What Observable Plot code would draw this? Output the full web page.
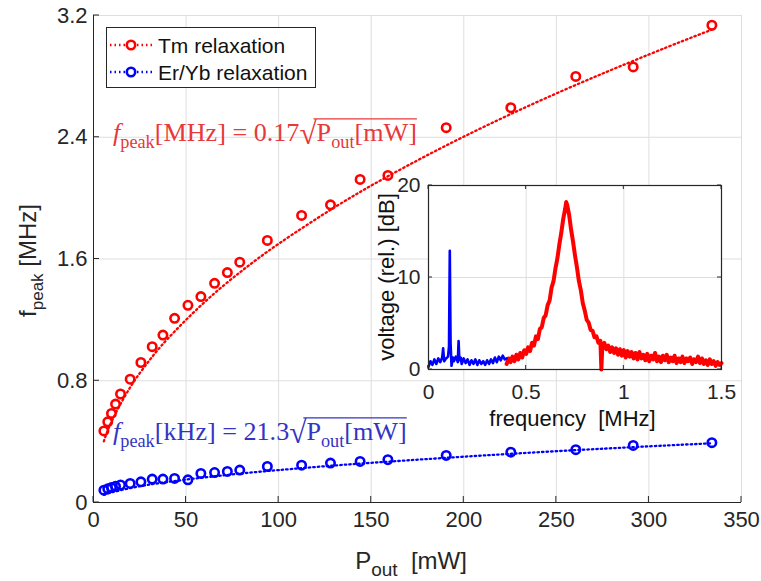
<!DOCTYPE html>
<html><head><meta charset="utf-8">
<script src="https://cdn.jsdelivr.net/npm/d3@7"></script>
<script src="https://cdn.jsdelivr.net/npm/@observablehq/plot@0.6"></script>
<style>
body{margin:0;background:#fff;}
#wrap{position:relative;width:761px;height:581px;font-family:"Liberation Sans",Arial,sans-serif;}
#wrap svg{position:absolute;overflow:visible;}
</style></head><body><div id="wrap"></div>
<script>
// ---- main chart data ----
const pOut   = [5.6, 7.7, 9.7, 11.9, 14.6, 19.8, 25.6, 31.7, 37.5, 43.8, 51, 58, 65.4, 72.3, 79, 93.9, 112.4, 128, 144, 159, 190.5, 225.4, 260.5, 291.5, 334];
const tmPeak = [0.47, 0.53, 0.585, 0.647, 0.713, 0.81, 0.92, 1.024, 1.10, 1.21, 1.296, 1.353, 1.44, 1.511, 1.579, 1.722, 1.886, 1.956, 2.123, 2.149, 2.463, 2.594, 2.80, 2.862, 3.136];
const erPeak = [0.081, 0.09, 0.098, 0.106, 0.115, 0.125, 0.136, 0.154, 0.154, 0.158, 0.149, 0.191, 0.197, 0.204, 0.213, 0.237, 0.245, 0.259, 0.27, 0.281, 0.309, 0.331, 0.347, 0.375, 0.393];
const fitP   = [5.6, 10, 20, 30, 40, 60, 80, 100, 130, 160, 200, 250, 300, 334];
const fitTm  = [0.402, 0.538, 0.760, 0.931, 1.075, 1.317, 1.521, 1.700, 1.938, 2.150, 2.404, 2.688, 2.944, 3.107];
const fitEr  = [0.050, 0.067, 0.095, 0.117, 0.135, 0.165, 0.191, 0.213, 0.243, 0.269, 0.301, 0.337, 0.369, 0.389];
const xTicks = [0, 50, 100, 150, 200, 250, 300, 350];
const yTicks = [0, 0.8, 1.6, 2.4, 3.2];
const seriesNames = ["Tm relaxation", "Er/Yb relaxation"];

// ---- inset spectrum data ----
const specBlueF = [0, 0.01, 0.02, 0.03, 0.04, 0.05, 0.06, 0.07, 0.075, 0.08, 0.09, 0.10, 0.105, 0.109, 0.113, 0.118, 0.125, 0.13, 0.14, 0.15, 0.154, 0.158, 0.165, 0.17, 0.18, 0.19, 0.20, 0.21, 0.22, 0.23, 0.24, 0.25, 0.26, 0.27, 0.28, 0.29, 0.30, 0.31, 0.32, 0.33, 0.34, 0.35, 0.36, 0.37, 0.38, 0.39, 0.40];
const specBlueV = [0.3, 0.9, 0.5, 1.1, 0.6, 1.2, 0.8, 1.3, 2.3, 0.9, 1.2, 1.4, 2.5, 12.9, 2.8, 0.4, 1.3, 0.9, 1.4, 0.8, 3.1, 1.0, 1.3, 0.6, 1.2, 0.7, 1.1, 0.5, 1.0, 0.6, 1.1, 0.5, 1.0, 0.6, 0.9, 0.5, 1.0, 0.6, 1.1, 0.7, 1.3, 0.8, 1.4, 1.0, 1.5, 1.1, 1.2];
const specRedF = [0.40, 0.41, 0.42, 0.43, 0.44, 0.45, 0.46, 0.47, 0.48, 0.49, 0.50, 0.51, 0.52, 0.53, 0.54, 0.55, 0.56, 0.57, 0.58, 0.59, 0.60, 0.61, 0.62, 0.63, 0.64, 0.65, 0.66, 0.67, 0.68, 0.69, 0.70, 0.705, 0.71, 0.72, 0.73, 0.74, 0.75, 0.76, 0.77, 0.78, 0.79, 0.80, 0.81, 0.82, 0.83, 0.84, 0.85, 0.86, 0.87, 0.88, 0.885, 0.89, 0.90, 0.91, 0.92, 0.93, 0.94, 0.95, 0.96, 0.97, 0.98, 0.99, 1.00, 1.01, 1.02, 1.03, 1.04, 1.05, 1.06, 1.07, 1.08, 1.09, 1.10, 1.11, 1.12, 1.13, 1.14, 1.15, 1.16, 1.17, 1.18, 1.19, 1.20, 1.21, 1.22, 1.23, 1.24, 1.25, 1.26, 1.27, 1.28, 1.29, 1.30, 1.31, 1.32, 1.33, 1.34, 1.35, 1.36, 1.37, 1.38, 1.39, 1.40, 1.41, 1.42, 1.43, 1.44, 1.45, 1.46, 1.47, 1.48, 1.49, 1.50];
const specRedV = [0.6, 1.2, 0.8, 1.4, 0.9, 1.6, 1.1, 1.8, 1.3, 2.1, 1.7, 2.4, 2.0, 2.9, 2.6, 3.6, 3.3, 4.4, 4.6, 5.6, 5.9, 7.0, 7.5, 8.9, 9.6, 11.0, 12.1, 13.6, 14.9, 16.4, 17.5, 18.2, 17.9, 16.8, 15.2, 13.9, 12.4, 11.1, 9.6, 8.6, 7.2, 6.4, 5.4, 5.1, 4.3, 4.2, 3.5, 3.6, 2.9, 3.1, 0.0, 2.6, 2.9, 2.2, 2.6, 1.9, 2.4, 1.8, 2.3, 1.6, 2.2, 1.5, 2.1, 1.3, 2.0, 1.4, 1.9, 1.2, 1.8, 1.1, 1.9, 1.2, 1.6, 1.0, 1.7, 0.9, 1.5, 1.1, 1.8, 0.9, 1.4, 0.8, 1.5, 1.0, 1.6, 0.8, 1.3, 0.9, 1.5, 0.7, 1.2, 0.8, 1.4, 0.7, 1.2, 0.9, 1.3, 0.6, 1.1, 0.8, 1.4, 0.7, 1.2, 0.6, 1.0, 0.5, 1.1, 0.6, 0.9, 0.4, 0.8, 0.5, 0.7];
const insetXTicks = [0, 0.5, 1, 1.5];
const insetYTicks = [0, 10, 20];

const RED = "#ff0000", BLUE = "#0000ff", AX = "#262626", GRID = "#dedede";
const FONT = "Liberation Sans, Arial, sans-serif";
const DOTS = "1.5,3";

const pts  = pOut.map((p, i) => ({p, tm: tmPeak[i], er: erPeak[i]}));
const fits = fitP.map((p, i) => ({p, tm: fitTm[i], er: fitEr[i]}));

const main = Plot.plot({
  width: 761, height: 581,
  marginLeft: 93, marginRight: 20, marginTop: 15, marginBottom: 79,
  style: {fontFamily: FONT, fontSize: "22px", color: AX, background: "transparent", overflow: "visible"},
  x: {domain: [0, 350], ticks: xTicks, tickSize: 0, tickPadding: 9, label: null, tickFormat: d => String(d)},
  y: {domain: [0, 3.2], ticks: yTicks, tickSize: 0, tickPadding: 6, label: null, tickFormat: d => d === 0 ? "0" : d.toFixed(1)},
  marks: [
    Plot.gridX(xTicks, {stroke: GRID, strokeOpacity: 1}),
    Plot.gridY(yTicks, {stroke: GRID, strokeOpacity: 1}),
    Plot.ruleX([0], {stroke: AX}),
    Plot.ruleY([0], {stroke: AX}),
    Plot.line(fits, {x: "p", y: "tm", stroke: RED, strokeWidth: 2.3, strokeDasharray: DOTS, curve: "natural"}),
    Plot.line(fits, {x: "p", y: "er", stroke: BLUE, strokeWidth: 2.3, strokeDasharray: DOTS, curve: "natural"}),
    Plot.dot(pts, {x: "p", y: "tm", r: 4.2, stroke: RED, strokeWidth: 2.6, fill: "none"}),
    Plot.dot(pts, {x: "p", y: "er", r: 4.2, stroke: BLUE, strokeWidth: 2.6, fill: "none"})
  ]
});
main.style.left = "0px"; main.style.top = "0px";
document.getElementById("wrap").appendChild(main);

const svg = d3.select(main);
const X = main.scale("x"), Y = main.scale("y");
const x0 = X.apply(0), y0 = Y.apply(0), yTop = Y.apply(3.2), xEnd = X.apply(350);
// inward ticks
xTicks.forEach(t => svg.append("line").attr("x1", X.apply(t)).attr("x2", X.apply(t)).attr("y1", y0).attr("y2", y0 - 6).attr("stroke", AX));
yTicks.forEach(t => svg.append("line").attr("x1", x0).attr("x2", x0 + 6).attr("y1", Y.apply(t)).attr("y2", Y.apply(t)).attr("stroke", AX));

// axis labels
const yl = svg.append("text").attr("transform", `translate(36,${(y0 + yTop) / 2 + 2}) rotate(-90)`)
  .attr("text-anchor", "middle").attr("font-size", 24).attr("fill", AX).attr("font-family", FONT);
yl.append("tspan").text("f");
yl.append("tspan").attr("font-size", 17).attr("dy", 7).text("peak");
yl.append("tspan").attr("dy", -7).text(" [MHz]");

const xl = svg.append("text").attr("transform", `translate(${(x0 + xEnd) / 2 - 6},569)`)
  .attr("text-anchor", "middle").attr("font-size", 24).attr("fill", AX).attr("font-family", FONT);
xl.append("tspan").text("P");
xl.append("tspan").attr("font-size", 19).attr("dy", 7).text("out");
xl.append("tspan").attr("dy", -7).text("  [mW]");

// legend
const lg = svg.append("g");
lg.append("rect").attr("x", 106.5).attr("y", 27.5).attr("width", 209).attr("height", 60).attr("fill", "white").attr("stroke", AX);
[[RED, 45], [BLUE, 72]].forEach(([c, yy], i) => {
  lg.append("line").attr("x1", 110).attr("x2", 153).attr("y1", yy).attr("y2", yy).attr("stroke", c).attr("stroke-width", 2.3).attr("stroke-dasharray", DOTS);
  lg.append("circle").attr("cx", 131).attr("cy", yy).attr("r", 4.2).attr("fill", "white").attr("stroke", c).attr("stroke-width", 2.6);
  lg.append("text").attr("x", 158).attr("y", yy + 7.5).attr("text-anchor", "start").attr("font-size", 21).attr("fill", "#111").attr("font-family", FONT).text(seriesNames[i]);
});

// fit formulas
function formula(px, py, color, unit, coef, target) {
  const t = svg.append("text").attr("x", px).attr("y", py).attr("fill", color).attr("text-anchor", "start")
    .attr("font-family", "Liberation Serif, 'Times New Roman', serif").attr("font-size", 22);
  t.append("tspan").attr("font-style", "italic").text("f");
  t.append("tspan").attr("font-size", "0.7em").attr("dy", "0.35em").text("peak");
  t.append("tspan").attr("dy", `${-0.35 * 0.7}em`).text(`[${unit}] = ${coef}`);
  t.append("tspan").attr("font-size", "1.2em").attr("dy", "0.08em").text("√");
  t.append("tspan").attr("dy", `${-0.08 * 1.2}em`).text("P");
  t.append("tspan").attr("font-size", "0.7em").attr("dy", "0.35em").text("out");
  t.append("tspan").attr("dy", `${-0.35 * 0.7}em`).text("[mW]");
  const w = t.node().getBBox().width;
  const fs = 22 * target / w;
  t.attr("font-size", fs);
  const node = t.node();
  const s = node.textContent;
  const iR = s.indexOf("√");
  const rR = node.getExtentOfChar(iR);
  const rL = node.getExtentOfChar(s.length - 1);
  svg.append("line").attr("x1", rR.x + rR.width * 0.82).attr("x2", rL.x + rL.width)
    .attr("y1", py - fs * 0.86).attr("y2", py - fs * 0.86).attr("stroke", color).attr("stroke-width", 1.1);
}
formula(X.apply(10.8), Y.apply(2.37), "#e8383a", "MHz", "0.17", 304);
formula(X.apply(10.8), Y.apply(0.405), "#3434c4", "kHz", "21.3", 294);

// ---- inset ----
const blue = specBlueF.map((f, i) => ({f, v: specBlueV[i]}));
const red  = specRedF.map((f, i) => ({f, v: specRedV[i]}));
const inset = Plot.plot({
  width: 370, height: 270,
  marginLeft: 58, marginRight: 19, marginTop: 15, marginBottom: 71,
  style: {fontFamily: FONT, fontSize: "21px", color: AX, background: "transparent", overflow: "visible"},
  x: {domain: [0, 1.5], ticks: insetXTicks, tickSize: 0, tickPadding: 15, label: null, tickFormat: d => String(d)},
  y: {domain: [0, 20], ticks: insetYTicks, tickSize: 0, tickPadding: 8, label: null, tickFormat: d => String(d)},
  marks: [
    Plot.frame({fill: "white", stroke: "none"}),
    Plot.gridX(insetXTicks, {stroke: GRID, strokeOpacity: 1}),
    Plot.gridY(insetYTicks, {stroke: GRID, strokeOpacity: 1}),
    Plot.line(red,  {x: "f", y: "v", stroke: RED, strokeWidth: 4, strokeLinejoin: "round"}),
    Plot.line(blue, {x: "f", y: "v", stroke: BLUE, strokeWidth: 2.6, strokeLinejoin: "round"}),
    Plot.frame({stroke: AX, strokeWidth: 1.2})
  ]
});
inset.style.left = "370px"; inset.style.top = "170px";
document.getElementById("wrap").appendChild(inset);
const isv = d3.select(inset);
const IX = inset.scale("x"), IY = inset.scale("y");
const ix0 = IX.apply(0), ix1 = IX.apply(1.5), iy0 = IY.apply(0), iy1 = IY.apply(20);
insetXTicks.forEach(t => {
  isv.append("line").attr("x1", IX.apply(t)).attr("x2", IX.apply(t)).attr("y1", iy0).attr("y2", iy0 - 4).attr("stroke", AX);
  isv.append("line").attr("x1", IX.apply(t)).attr("x2", IX.apply(t)).attr("y1", iy1).attr("y2", iy1 + 4).attr("stroke", AX);
});
insetYTicks.forEach(t => {
  isv.append("line").attr("x1", ix0).attr("x2", ix0 + 4).attr("y1", IY.apply(t)).attr("y2", IY.apply(t)).attr("stroke", AX);
  isv.append("line").attr("x1", ix1).attr("x2", ix1 - 4).attr("y1", IY.apply(t)).attr("y2", IY.apply(t)).attr("stroke", AX);
});
isv.append("text").attr("x", (ix0 + ix1) / 2 - 2).attr("y", 256).attr("text-anchor", "middle")
  .attr("font-size", 22).attr("fill", "#111").attr("font-family", FONT).text("frequency  [MHz]");
isv.append("text").attr("transform", `translate(24,${(iy0 + iy1) / 2}) rotate(-90)`).attr("text-anchor", "middle")
  .attr("font-size", 22).attr("fill", "#111").attr("font-family", FONT).text("voltage (rel.) [dB]");
</script></body></html>
